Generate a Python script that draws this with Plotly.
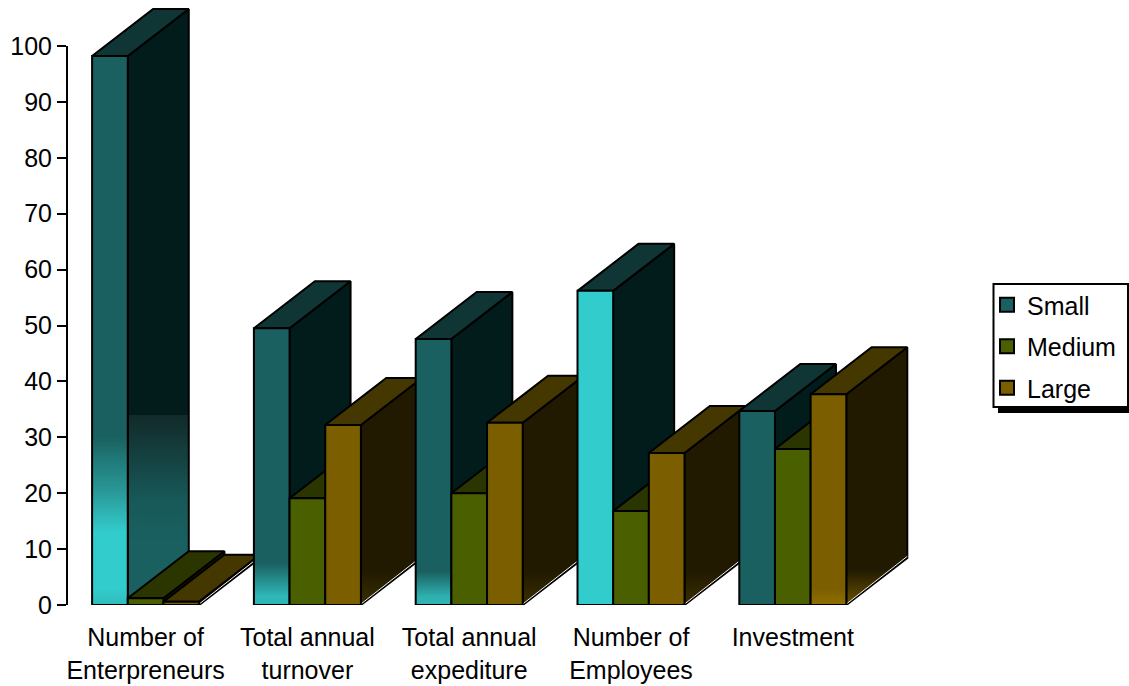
import plotly.graph_objects as go

# Survey results by enterprise size
categories = ["Number of<br>Enterpreneurs", "Total annual<br>turnover", "Total annual<br>expediture",
              "Number of<br>Employees", "Investment"]
small = [98.2, 49.5, 47.6, 56.2, 34.7]
medium = [1.2, 19.1, 20.0, 16.8, 27.9]
large = [0.6, 32.2, 32.6, 27.2, 37.7]

W, H = 1129, 686
LEFT, TOP, BOTTOM = 67, 1, 81
PX_PER_UNIT = 5.59
PX_PER_CAT = 161.8
FIRST_CAT_PX = 145.6
BAR_W = 35.67 / PX_PER_CAT
DEPTH_X = 61.0 / PX_PER_CAT
DEPTH_Y = 47.0 / PX_PER_UNIT
Y_TOP = (H - BOTTOM - TOP) / PX_PER_UNIT
FONT = "Liberation Sans, Arial, sans-serif"
FONT_SIZE = 25

TEAL, CYAN = "#1a6060", "#33cccc"
PALETTE = {
    "Small": dict(front=TEAL, top="#0f3535", side="#021c1c"),
    "Medium": dict(front="#4a5f00", top="#2b3500", side="#1a2000"),
    "Large": dict(front="#7a5e00", top="#453700", side="#211a00"),
}


def grad(stops):
    """Vertical gradient from (axis value, colour) pairs, lowest value first."""
    lo, hi = stops[0][0], stops[-1][0]
    return dict(type="vertical", start=lo, stop=hi,
                colorscale=[[(v - lo) / (hi - lo), c] for v, c in stops])


# Shaded faces: keyed by (series, category index)
FRONT_GRAD = {
    ("Small", 0): [(0, "#2fbcbc"), (3, CYAN), (13, CYAN), (20, "#2a9a9a"), (27, "#1f7373"),
                   (30, TEAL), (100, TEAL)],
    ("Small", 1): [(0, "#2fb4b4"), (1.5, "#2fb8b8"), (7.5, TEAL), (100, TEAL)],
    ("Small", 2): [(0, "#2fb4b4"), (1.5, "#2fb0b0"), (6, TEAL), (100, TEAL)],
    ("Small", 3): [(0, CYAN), (100, CYAN)],
    ("Large", 4): [(0, "#8f7000"), (3, "#7a5e00"), (100, "#7a5e00")],
}
SIDE_GRAD = {
    ("Small", 0): [(0, TEAL), (11, TEAL), (19, "#185858"), (33.9, "#122a2a"), (34, "#021c1c"),
                   (110, "#021c1c")],
    ("Large", 1): [(0, "#3a2e00"), (6, "#211a00"), (110, "#211a00")],
    ("Large", 2): [(0, "#3a2e00"), (6, "#211a00"), (110, "#211a00")],
    ("Large", 3): [(0, "#3a2e00"), (6, "#211a00"), (110, "#211a00")],
    ("Large", 4): [(0, "#6b5200"), (6.3, "#211a00"), (110, "#211a00")],
}

fig = go.Figure()


def face(xs, ys, color, gradient, name):
    kw = dict(fillgradient=grad(gradient)) if gradient else dict(fillcolor=color)
    fig.add_trace(go.Scatter(x=xs + xs[:1], y=ys + ys[:1], mode="lines", fill="toself",
                             line=dict(color="#000000", width=2), name=name,
                             showlegend=False, hoverinfo="skip", cliponaxis=False, **kw))


def bar(i, slot, value, series):
    x0 = i - 1.5 * BAR_W + slot * BAR_W
    x1 = x0 + BAR_W
    pal = PALETTE[series]
    # Faces are painted back to front so neighbours hide what they should
    face([x1, x1 + DEPTH_X, x1 + DEPTH_X, x1], [0, DEPTH_Y, value + DEPTH_Y, value],
         pal["side"], SIDE_GRAD.get((series, i)), f"{series} side")
    face([x0, x1, x1 + DEPTH_X, x0 + DEPTH_X], [value, value, value + DEPTH_Y, value + DEPTH_Y],
         pal["top"], None, f"{series} top")
    face([x0, x1, x1, x0], [0, 0, value, value],
         pal["front"], FRONT_GRAD.get((series, i)), series)
    # Thin highlight along the floor edge of the side face
    fig.add_trace(go.Scatter(x=[x1 + 0.006, x1 + DEPTH_X], y=[0.3, DEPTH_Y + 0.3], mode="lines",
                             line=dict(color="#f4f4f4", width=1), showlegend=False,
                             hoverinfo="skip", cliponaxis=False))


for i in range(len(categories)):
    for slot, (series, values) in enumerate([("Small", small), ("Medium", medium), ("Large", large)]):
        bar(i, slot, values[i], series)

# Legend entries
for series in PALETTE:
    fig.add_trace(go.Scatter(x=[None], y=[None], mode="markers", name=series, legendgroup=series,
                             marker=dict(symbol="square", size=14, color=PALETTE[series]["front"],
                                         line=dict(color="#000000", width=2))))


def paper_x(px):
    return (px - LEFT) / (W - LEFT)


def paper_y(py):
    return (H - BOTTOM - py) / (H - BOTTOM - TOP)


shapes = [
    # Value axis spine, stopping at the last tick
    dict(type="line", xref="paper", yref="y", x0=0, x1=0, y0=0, y1=100,
         line=dict(color="#000000", width=2)),
    # Legend frame with its drop shadow
    dict(type="rect", xref="paper", yref="paper", x0=paper_x(998), x1=paper_x(1129),
         y0=paper_y(413), y1=paper_y(290), fillcolor="#000000", line=dict(width=0), layer="below"),
    dict(type="rect", xref="paper", yref="paper", x0=paper_x(993.5), x1=paper_x(1128),
         y0=paper_y(407), y1=paper_y(284), fillcolor="#ffffff",
         line=dict(color="#000000", width=2), layer="below"),
]

fig.update_layout(
    width=W, height=H, autosize=False,
    margin=dict(l=LEFT, r=0, t=TOP, b=BOTTOM, pad=0),
    paper_bgcolor="#ffffff", plot_bgcolor="rgba(0,0,0,0)",
    font=dict(family=FONT, size=FONT_SIZE, color="#000000"),
    shapes=shapes,
    legend=dict(x=paper_x(987), xanchor="left", y=paper_y(282), yanchor="top",
                bgcolor="rgba(0,0,0,0)", borderwidth=0, itemsizing="trace",
                tracegroupgap=6, font=dict(family=FONT, size=FONT_SIZE, color="#000000")),
    xaxis=dict(range=[(LEFT - FIRST_CAT_PX) / PX_PER_CAT, (W - FIRST_CAT_PX) / PX_PER_CAT],
               tickmode="array", tickvals=list(range(len(categories))), ticktext=categories,
               showgrid=False, zeroline=False, showline=False, ticks="", fixedrange=True,
               tickangle=0, ticklabelstandoff=15),
    yaxis=dict(range=[0, Y_TOP], tickmode="array", tickvals=list(range(0, 101, 10)),
               showgrid=False, zeroline=False, showline=False,
               ticks="outside", ticklen=9, tickwidth=2, tickcolor="#000000", fixedrange=True),
)

fig.write_html("out.html", config=dict(displayModeBar=False))
